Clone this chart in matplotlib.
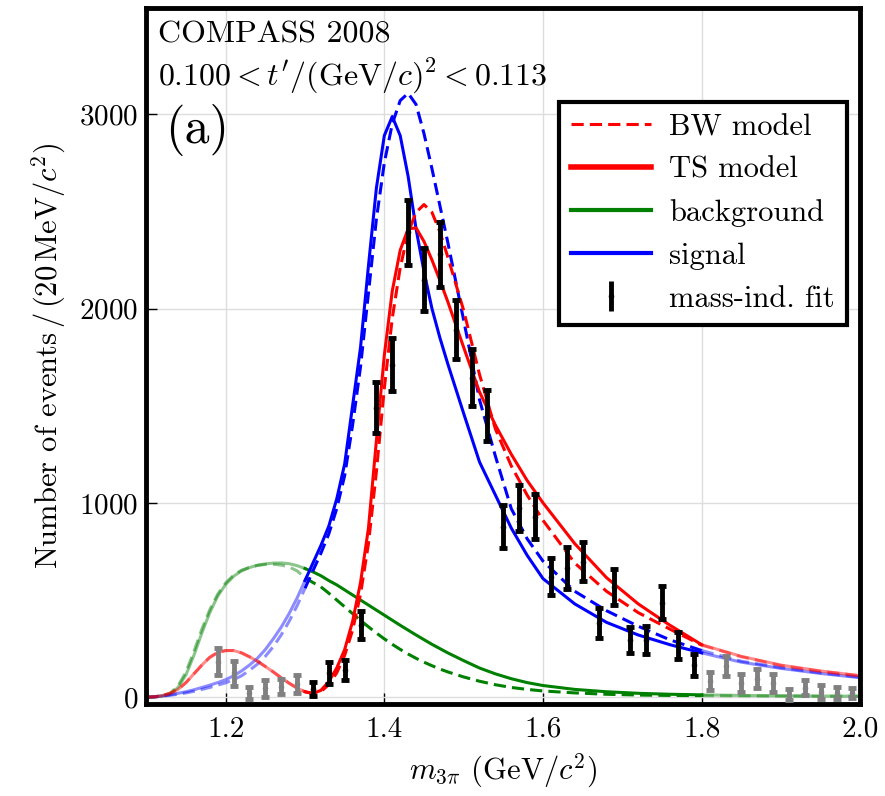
import numpy as np
import matplotlib.pyplot as plt
from matplotlib.lines import Line2D

plt.rcParams.update({
    "font.family": "cmr10",
    "mathtext.fontset": "cm",
    "axes.formatter.use_mathtext": True,
    "font.size": 22,
})

# ---------------------------------------------------------------
# data
# ---------------------------------------------------------------
# mass-independent fit, bins used in the fit range (black)
m_fit = [1.31, 1.33, 1.35, 1.37, 1.39, 1.41, 1.43, 1.45, 1.47, 1.49, 1.51, 1.53, 1.55,
         1.57, 1.59, 1.61, 1.63, 1.65, 1.67, 1.69, 1.71, 1.73, 1.75, 1.77, 1.79]
n_fit = [41, 125, 139, 371, 1490, 1711, 2392, 2149, 2278, 1892, 1644, 1449, 878,
         974, 929, 620, 665, 697, 381, 568, 294, 294, 486, 268, 165]
e_fit = [35, 58, 53, 73, 133, 137, 168, 163, 168, 150, 146, 133, 112,
         118, 114, 94, 107, 101, 79, 93, 67, 73, 84, 69, 57]

# bins outside the fit range (grey)
m_out = [1.19, 1.21, 1.23, 1.25, 1.27, 1.29,
         1.81, 1.83, 1.85, 1.87, 1.89, 1.91, 1.93, 1.95, 1.97, 1.99]
n_out = [182, 123, 22, 46, 53, 67,
         84, 160, 74, 96, 74, 13, 48, 27, 22, 22]
e_out = [69, 64, 30, 43, 39, 47,
         47, 52, 47, 49, 47, 30, 39, 34, 30, 26]

# model curves
m_curve = [1.10, 1.11, 1.12, 1.13, 1.14, 1.15, 1.16, 1.17, 1.18, 1.19,
           1.20, 1.21, 1.22, 1.23, 1.24, 1.25, 1.26, 1.27, 1.28, 1.29,
           1.30, 1.31, 1.32, 1.33, 1.34, 1.35, 1.36, 1.37, 1.38, 1.39,
           1.40, 1.41, 1.42, 1.43, 1.44, 1.45, 1.46, 1.47, 1.48,
           1.50, 1.52, 1.54, 1.56, 1.58, 1.60,
           1.64, 1.68, 1.72, 1.76, 1.80, 1.85, 1.90, 1.95, 2.00]
ts_total = [0, 2, 8, 20, 40, 75, 120, 165, 205, 230,
            240, 240, 228, 208, 185, 158, 130, 100, 72, 47,
            28, 19, 35, 80, 150, 245, 390, 590, 870, 1320,
            1760, 2090, 2300, 2410, 2415, 2345, 2250, 2145, 2035,
            1800, 1570, 1400, 1250, 1115, 1000,
            790, 615, 480, 370, 270, 210, 165, 135, 110]
bw_total = [0, 2, 8, 20, 40, 75, 120, 165, 205, 230,
            240, 240, 228, 208, 185, 158, 130, 100, 72, 47,
            28, 19, 28, 65, 125, 215, 345, 530, 790, 1160,
            1590, 1950, 2210, 2390, 2495, 2535, 2495, 2395, 2265,
            1990, 1660, 1380, 1190, 1040, 910,
            690, 545, 435, 350, 268, 208, 163, 133, 110]
ts_bkg = [0, 2, 6, 15, 50, 115, 215, 330, 435, 520,
          580, 622, 650, 667, 679, 686, 690, 691, 687, 677,
          662, 645, 625, 600, 578, 552, 526, 500, 474, 448,
          422, 396, 370, 345, 320, 296, 272, 250, 228,
          188, 150, 120, 95, 75, 60,
          40, 28, 20, 15, 12, 9, 7, 6, 5]
bw_bkg = [0, 2, 8, 20, 58, 130, 235, 350, 450, 530,
          588, 628, 653, 668, 678, 683, 684, 680, 670, 650,
          615, 590, 568, 535, 500, 465, 430, 395, 362, 330,
          300, 272, 246, 222, 200, 180, 162, 145, 130,
          104, 82, 64, 50, 40, 32,
          22, 15, 11, 9, 8, 7, 6, 5, 5]
ts_sig = [0, 2, 6, 12, 20, 28, 38, 50, 62, 75,
          90, 110, 135, 165, 200, 245, 300, 360, 430, 510,
          600, 690, 780, 880, 1020, 1200, 1500, 1800, 2220, 2620,
          2890, 2988, 2890, 2680, 2410, 2190, 2000, 1850, 1715,
          1460, 1210, 1040, 870, 730, 610,
          480, 385, 320, 270, 228, 180, 148, 122, 100]
bw_sig = [0, 2, 5, 10, 15, 22, 30, 40, 50, 62,
          74, 90, 110, 138, 170, 210, 260, 320, 390, 470,
          560, 650, 740, 840, 970, 1140, 1400, 1700, 2080, 2460,
          2750, 2950, 3070, 3108, 3050, 2900, 2720, 2530, 2340,
          1940, 1530, 1240, 970, 815, 700,
          545, 445, 365, 295, 240, 185, 152, 125, 103]

RED = "#ff0000"
GREEN = "#008000"
BLUE = "#0000ff"
GREY = "#808080"

fit_lo, fit_hi = 1.30, 1.80


def draw_curve(ax, x, y, color, ls, lw=2.2):
    x = np.asarray(x)
    y = np.asarray(y)
    inside = (x >= fit_lo - 1e-9) & (x <= fit_hi + 1e-9)
    low = x <= fit_lo + 1e-9
    high = x >= fit_hi - 1e-9
    kw = dict(color=color, lw=lw, solid_joinstyle="round")
    if ls == "--":
        kw["dashes"] = (4, 2)
    ax.plot(x[low], y[low], alpha=0.45, zorder=2, **kw)
    ax.plot(x[high], y[high], alpha=0.45, zorder=2, **kw)
    ax.plot(x[inside], y[inside], zorder=3, **kw)


fig = plt.figure(figsize=(8.85, 7.96), dpi=100)
ax = fig.add_axes([0.1653, 0.1156, 0.8069, 0.874])

draw_curve(ax, m_curve, bw_bkg, GREEN, "--")
draw_curve(ax, m_curve, ts_bkg, GREEN, "-")
draw_curve(ax, m_curve, bw_sig, BLUE, "--")
draw_curve(ax, m_curve, ts_sig, BLUE, "-")
draw_curve(ax, m_curve, bw_total, RED, "--")
draw_curve(ax, m_curve, ts_total, RED, "-")

ax.errorbar(m_out, n_out, yerr=e_out, fmt="o", color=GREY, ms=3,
            elinewidth=3.5, capsize=3, capthick=3.5, zorder=4)
ax.errorbar(m_fit, n_fit, yerr=e_fit, fmt="o", color="black", ms=3,
            elinewidth=3.5, capsize=3, capthick=3.5, zorder=5)

ax.set_xlim(1.1, 2.0)
ax.set_ylim(-35, 3545)
ax.set_xticks([1.2, 1.4, 1.6, 1.8, 2.0])
ax.set_xticklabels(["1.2", "1.4", "1.6", "1.8", "2.0"])
ax.set_yticks([0, 1000, 2000, 3000])
ax.tick_params(direction="in", length=8, width=1, labelsize=21)
ax.tick_params(axis="y", pad=6)
ax.tick_params(axis="x", pad=9)
ax.grid(True, color="#dddddd", lw=1)
ax.set_axisbelow(True)
for sp in ax.spines.values():
    sp.set_linewidth(3.5)

ax.set_xlabel(r"$m_{3\pi}$ (GeV$/c^2$)", fontsize=22, labelpad=6)
ax.set_ylabel(r"Number of events$\,/\,$(20$\,$MeV$/c^2$)", fontsize=22, labelpad=8)

ax.text(0.016, 0.982, "COMPASS 2008", transform=ax.transAxes, fontsize=23,
        va="top", ha="left")
ax.text(0.016, 0.93, r"$0.100 < t'/(\mathrm{GeV}/c)^2 < 0.113$", transform=ax.transAxes,
        fontsize=23, va="top", ha="left")
ax.text(0.026, 0.825, "(a)", transform=ax.transAxes, fontsize=36, va="center", ha="left")

handles = [
    Line2D([], [], color=RED, lw=2.2, dashes=(4, 2)),
    Line2D([], [], color=RED, lw=4),
    Line2D([], [], color=GREEN, lw=3),
    Line2D([], [], color=BLUE, lw=3),
]
eb = ax.errorbar([], [], yerr=[], fmt="o", color="black", ms=3,
                 elinewidth=3.5, capsize=3, capthick=3.5)
handles.append(eb)
labels = ["BW model", "TS model", "background", "signal", "mass-ind. fit"]
leg = ax.legend(handles, labels, loc="upper right", bbox_to_anchor=(0.981, 0.866),
                borderaxespad=0, fancybox=False, edgecolor="black", framealpha=1,
                fontsize=22, handlelength=2.6, handletextpad=0.6, labelspacing=0.5,
                borderpad=0.4)
leg.get_frame().set_linewidth(3)

fig.savefig("out.png", dpi=100)
